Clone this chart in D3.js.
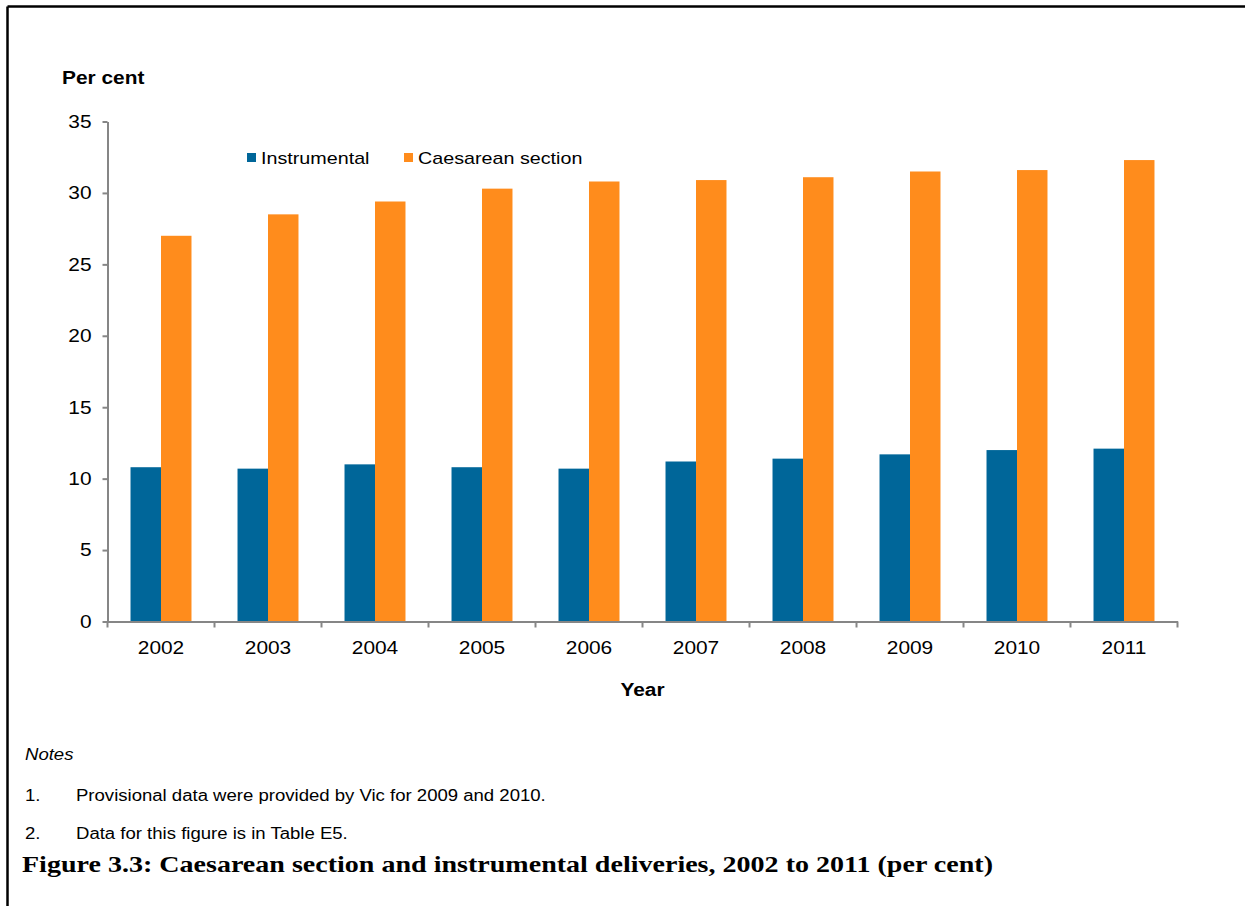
<!DOCTYPE html>
<html>
<head>
<meta charset="utf-8">
<script src="https://cdn.jsdelivr.net/npm/d3@7"></script>
<style>
  html, body { margin: 0; padding: 0; background: #fff; }
  svg { display: block; }
</style>
</head>
<body>
<svg id="chart" width="1245" height="906"></svg>
<script>
// Delivery method rates by year (per cent)
const years = ["2002", "2003", "2004", "2005", "2006", "2007", "2008", "2009", "2010", "2011"];
const instrumental = [10.8, 10.7, 11.0, 10.8, 10.7, 11.2, 11.4, 11.7, 12.0, 12.1];
const caesarean = [27.0, 28.5, 29.4, 30.3, 30.8, 30.9, 31.1, 31.5, 31.6, 32.3];
const seriesNames = ["Instrumental", "Caesarean section"];
const seriesColors = ["#006699", "#FF8C1C"];
const yTicks = [0, 5, 10, 15, 20, 25, 30, 35];
const notes = [
  "Provisional data were provided by Vic for 2009 and 2010.",
  "Data for this figure is in Table E5."
];

const rows = years.map((y, i) => ({ year: y, values: [instrumental[i], caesarean[i]] }));

const svg = d3.select("#chart");
const margin = { left: 107.5, right: 1177.5, top: 121.5, bottom: 621.5 };
const axisColor = "#868686";
const font = "'Liberation Sans', Arial, sans-serif";
const stretch = 1.16; // sans text is set slightly wide

// place a horizontally widened text label
function wideText(parent, x, y, str, opts) {
  const g = parent.append("g").attr("transform", `translate(${x},${y}) scale(${stretch},1)`);
  const t = g.append("text").text(str)
    .attr("font-family", font)
    .attr("font-size", opts.size)
    .attr("fill", "#000");
  if (opts.weight) t.attr("font-weight", opts.weight);
  if (opts.style) t.attr("font-style", opts.style);
  if (opts.anchor) t.attr("text-anchor", opts.anchor);
  if (opts.dy) t.attr("dy", opts.dy);
  return t;
}

// frame lines on the top and left edge
svg.append("line").attr("x1", 7.5).attr("x2", 1245).attr("y1", 6.5).attr("y2", 6.5)
  .attr("stroke", "#000").attr("stroke-width", 2.5);
svg.append("line").attr("x1", 7.5).attr("x2", 7.5).attr("y1", 6.5).attr("y2", 906)
  .attr("stroke", "#000").attr("stroke-width", 2.5);

const x = d3.scaleBand().domain(years).range([margin.left, margin.right]).paddingInner(0).paddingOuter(0);
const inner = d3.scaleBand().domain(d3.range(seriesNames.length))
  .range([0, x.bandwidth()]).paddingInner(0).paddingOuter(0.755);
const y = d3.scaleLinear().domain([0, 35]).range([margin.bottom, margin.top]);

// bars
const groups = svg.append("g").selectAll("g").data(rows).join("g")
  .attr("transform", d => `translate(${x(d.year)},0)`);
groups.selectAll("rect").data(d => d.values.map((v, i) => ({ v, i }))).join("rect")
  .attr("x", d => inner(d.i))
  .attr("width", inner.bandwidth())
  .attr("y", d => y(d.v))
  .attr("height", d => y(0) - y(d.v))
  .attr("fill", d => seriesColors[d.i]);

// y axis
const yAxis = svg.append("g").attr("transform", `translate(${margin.left},0)`)
  .call(d3.axisLeft(y).tickValues(yTicks).tickSize(5).tickSizeOuter(0).tickFormat(""));
yAxis.select(".domain").attr("stroke", axisColor).attr("stroke-width", 2);
yAxis.selectAll(".tick line").attr("stroke", axisColor).attr("stroke-width", 2);
yTicks.forEach(v => {
  wideText(svg, margin.left - 16, y(v), String(v), { size: 18, anchor: "end", dy: "0.35em" });
});

// x axis with ticks between categories
const xAxis = svg.append("g").attr("transform", `translate(0,${margin.bottom})`)
  .call(d3.axisBottom(x).tickSize(0).tickFormat(""));
xAxis.select(".domain").attr("stroke", axisColor).attr("stroke-width", 2);
const boundaries = years.map(d => x(d)).concat([x(years[years.length - 1]) + x.bandwidth()]);
xAxis.selectAll("line.sep").data(boundaries).join("line").attr("class", "sep")
  .attr("x1", d => d).attr("x2", d => d).attr("y1", 0).attr("y2", 6)
  .attr("stroke", axisColor).attr("stroke-width", 2);
years.forEach(yr => {
  wideText(svg, x(yr) + x.bandwidth() / 2, margin.bottom + 32, yr, { size: 18, anchor: "middle" });
});

// axis titles
wideText(svg, 62, 84, "Per cent", { size: 18, weight: "bold" });
wideText(svg, (margin.left + margin.right) / 2, 696, "Year", { size: 18, weight: "bold", anchor: "middle" });

// legend
const legendX = [247, 404];
seriesNames.forEach((name, i) => {
  svg.append("rect").attr("x", legendX[i]).attr("y", 153).attr("width", 9).attr("height", 9)
    .attr("fill", seriesColors[i]);
  wideText(svg, legendX[i] + 14, 164, name, { size: 17 });
});

// notes
wideText(svg, 25, 760, "Notes", { size: 16, style: "italic" });
notes.forEach((n, i) => {
  const yy = 801 + i * 38;
  wideText(svg, 25, yy, `${i + 1}.`, { size: 16 });
  wideText(svg, 76, yy, n, { size: 16 });
});

// figure caption
svg.append("text").attr("x", 22).attr("y", 872)
  .text("Figure 3.3: Caesarean section and instrumental deliveries, 2002 to 2011 (per cent)")
  .attr("font-family", "'Liberation Serif', 'Times New Roman', serif")
  .attr("font-weight", "bold").attr("font-size", 23)
  .attr("textLength", 971).attr("lengthAdjust", "spacingAndGlyphs");
</script>
</body>
</html>
